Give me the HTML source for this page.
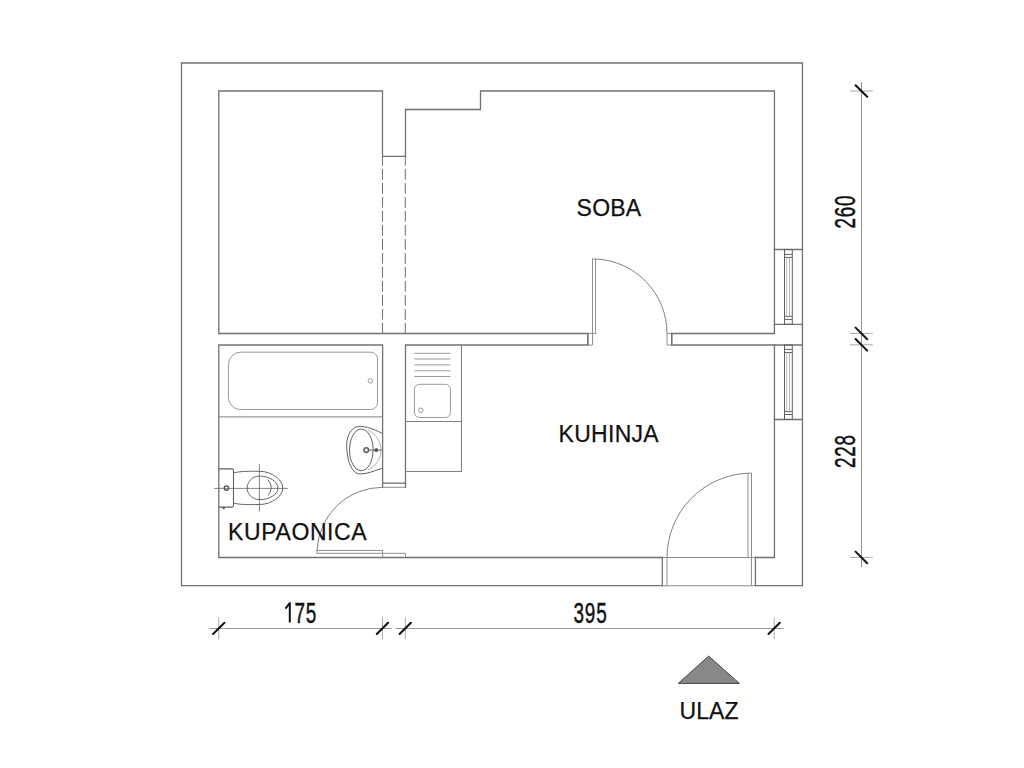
<!DOCTYPE html>
<html><head><meta charset="utf-8">
<style>
html,body{margin:0;padding:0;background:#fff;width:1024px;height:768px;overflow:hidden}
svg{display:block}
text{font-family:"Liberation Sans",sans-serif;fill:#111}
</style></head><body>
<svg width="1024" height="768" viewBox="0 0 1024 768">
<g fill="none" stroke="#717171" stroke-width="1.3" stroke-linecap="square">
  <!-- outer wall -->
  <path d="M662.3 585.7 H181.5 V63 H802.45 V585.7 H755.4"/>
  <!-- top-left room + soba outline -->
  <path d="M218.8 333.5 V91 H382.5 V156.3 H405.5 V109.5 H480.5 V91 H774.45 V333.5 H671.7 V345 H802.45"/>
  <path d="M218.8 333.5 H587.8 V345 H405.5 V487.3"/>
  <!-- bathroom -->
  <path d="M382.6 487.3 V345 H218.8 V557.5 H662.3 M755.4 557.5 H774.45 V345"/>
  <!-- window top/bot lines -->
  <path d="M774.45 249.5 H802.45 M774.45 324.3 H802.45 M774.45 419.5 H802.45"/>
  <!-- sill between bath & kitchen -->
  <path d="M382.6 483.2 H405.5"/>
  <!-- entrance jambs -->
  <path d="M662.3 557.5 V585.7 M755.4 557.5 V585.7"/>
  <!-- soba door jambs -->
  <path d="M587.8 333.5 V345 M671.7 333.5 V345"/>
  <!-- kitchen counter -->
  <path d="M405.5 471.5 H461.5 V345 M405.5 421.4 H461.5" stroke-width="1.05" stroke="#808080"/>
</g>
<!-- dashed -->
<g fill="none" stroke="#747474" stroke-width="1.05" stroke-dasharray="10.8 3.2">
  <path d="M382.5 155 V333.5 M405.3 155 V333.5"/>
</g>
<!-- light details -->
<g fill="none" stroke="#8a8a8a" stroke-width="0.95">
  <!-- soba door -->
  <path d="M592.5 333.5 V345 M667 333.5 V345 M587.8 333.5 H592.5 M587.8 345 H592.5 M667 333.5 H671.7 M667 345 H671.7"/>
  <rect x="592.5" y="259" width="3.1" height="74.5"/>
  <path d="M595.6 259 A74.5 74.5 0 0 1 667 333.5" stroke="#7a7a7a"/>
  <!-- entrance door -->
  <path d="M667 557.5 V585.7 M751.5 473.2 V585.7"/>
  <path d="M662.3 557.5 H755.4 M662.3 585.7 H755.4" stroke="#8a8a8a" stroke-width="1.1"/>
  <rect x="748" y="473.2" width="3.5" height="84.3"/>
  <path d="M667 557.5 A84.5 84.5 0 0 1 748 473.2" stroke="#7a7a7a"/>
  <!-- bathroom door -->
  <path d="M382.6 487.3 H405.5"/>
  <rect x="317" y="550.4" width="65.6" height="2.9"/>
  <path d="M405.5 553.3 H382.6 M405.5 553.3 V557.5 M382.6 553.3 V557.5"/>
  <path d="M317 550.4 A65.6 65.6 0 0 1 382.6 487.3" stroke="#7a7a7a"/>
</g>
<!-- windows -->
<g fill="none" stroke="#606060" stroke-width="1">
  <rect x="784.5" y="249.5" width="7.8" height="74.8"/>
  <path d="M784.5 254.4 H792.3 M784.5 257.4 H792.3 M784.5 316.3 H792.3 M784.5 319.4 H792.3"/>
  <rect x="784.5" y="345" width="7.8" height="74.5"/>
  <path d="M784.5 349.4 H792.3 M784.5 352.5 H792.3 M784.5 411.6 H792.3 M784.5 414.5 H792.3"/>
</g>
<g fill="none" stroke-width="0.8">
  <path d="M786.7 257.4 V316.3 M786.7 352.5 V411.6" stroke="#aaa"/>
  <path d="M789.5 257.4 V316.3 M789.5 352.5 V411.6" stroke="#999"/>
</g>
<!-- bathtub -->
<g fill="none" stroke="#999" stroke-width="1">
  <path d="M240.4 352.2 H370.9 A6.6 6.6 0 0 1 377.5 358.8 V402.9 A6.6 6.6 0 0 1 370.9 409.5 H240.4 A12 12 0 0 1 228.4 397.5 V364.2 A12 12 0 0 1 240.4 352.2 Z"/>
  <circle cx="370.3" cy="380.9" r="2.2"/>
  <path d="M218.8 416.9 H382.6" stroke="#808080"/>
</g>
<!-- sink bathroom -->
<g fill="none" stroke="#606060" stroke-width="1">
  <path d="M382.6 433.6 C372 428 362 425 356 427 C348 430 345 442 347.5 455 C349 466 354 474 360 474 C368 474 376 470 382.6 468.2"/>
  <ellipse cx="361.3" cy="449.9" rx="11.8" ry="20.8"/>
  <circle cx="366.3" cy="450.1" r="2.3" stroke-width="1.6"/>
  <circle cx="376.3" cy="450.1" r="1.6" fill="#333"/>
  <path d="M368.6 450.1 H382.6"/>
</g>
<g fill="none" stroke="#999" stroke-width="0.8">
  <path d="M368 430 C376 434 381 442 381 450 C381 458 376 466 368 470"/>
</g>
<!-- toilet -->
<g fill="none" stroke="#666" stroke-width="1">
  <path d="M218.8 468.9 H232 Q233.5 468.9 233.5 470.4 V505.6 Q233.5 507.1 232 507.1 H218.8" stroke="#606060" stroke-width="1.1"/>
  <circle cx="226.4" cy="488.1" r="2.2" stroke="#555" stroke-width="1.4"/>
  <path d="M214 488.4 H287.8 M259.4 464.2 V511.6" stroke-width="0.8"/>
  <path d="M233.5 473 C240 471 250 471.3 259.4 471.3 C272 471.3 282.8 480 282.8 488 C282.8 496 272 504.5 259.4 504.5 C250 504.5 240 505 233.5 503"/>
  <path d="M259.4 476.1 C270 476.1 278 482 278 488 C278 494 270 499.6 259.4 499.6 C252 499.6 247.2 494 247.2 488 C247.2 482 252 476.1 259.4 476.1 Z"/>
  <path d="M268 479.7 Q274.5 487.6 268 495.6"/>
  <circle cx="223.7" cy="508" r="0.9" fill="#333"/>
</g>
<!-- kitchen sink -->
<g fill="none" stroke="#999" stroke-width="1">
  <path d="M414.4 353.3 H450.4 M414.4 359 H450.4 M414.4 364.9 H450.4 M414.4 370.8 H450.4 M414.4 376.5 H450.4"/>
  <rect x="414.4" y="384.3" width="36" height="33.2" rx="5"/>
  <circle cx="420.8" cy="410.3" r="2.3"/>
</g>
<!-- dimension lines -->
<g fill="none" stroke-width="1">
  <path d="M861.5 82 V567 M209.4 628.5 H391.6 M395.5 628.5 H783.4" stroke="#959595"/>
  <path d="M850 91 H872.8 M850 333.4 H872.8 M850 344.8 H872.8 M850 557.4 H872.8 M218.75 617.3 V639.5 M382.5 617.3 V639.5 M405.3 617.3 V639.5 M774.2 617.3 V639.5" stroke="#aaa"/>
</g>
<g fill="none" stroke="#111" stroke-width="2" stroke-linecap="round">
  <path d="M855.6 85.2 L867.2 96.8 M855.6 327.6 L867.2 339.2 M855.6 339 L867.2 350.6 M855.6 551.6 L867.2 563.2"/>
  <path d="M213.1 634 L224.4 622.7 M376.8 634 L388.1 622.7 M399.6 634 L410.9 622.7 M768.5 634 L779.8 622.7"/>
</g>
<!-- triangle -->
<path d="M708.7 656.1 L739.4 683.4 L678.3 683.4 Z" fill="#888" stroke="#444" stroke-width="1"/>
<!-- labels -->
<g class="t" stroke="#111" stroke-width="0.25">
<text x="576.6" y="215.6" font-size="23" letter-spacing="0.2">SOBA</text>
<text x="558.5" y="442.3" font-size="23" letter-spacing="0.3">KUHINJA</text>
<text x="228.1" y="540.4" font-size="23" letter-spacing="0.6">KUPAONICA</text>
<text x="679.5" y="718.6" font-size="23" letter-spacing="0.1">ULAZ</text>
</g>
<g class="t" stroke="#111" stroke-width="0.45">
<text font-size="30" letter-spacing="1.2" transform="translate(294.6 622.5) scale(0.63 1)">75</text>
<path d="M285.4 608.6 L289.8 603 V622.4" fill="none" stroke="#111" stroke-width="2" stroke-linejoin="round"/>
<text font-size="30" letter-spacing="1.2" transform="translate(573.6 622.6) scale(0.63 1)">395</text>
<text font-size="30" letter-spacing="1.2" transform="translate(855.3 228.5) rotate(-90) scale(0.63 1)">260</text>
<text font-size="30" letter-spacing="1.2" transform="translate(855.3 468.1) rotate(-90) scale(0.63 1)">228</text>
</g>
</svg>
</body></html>
